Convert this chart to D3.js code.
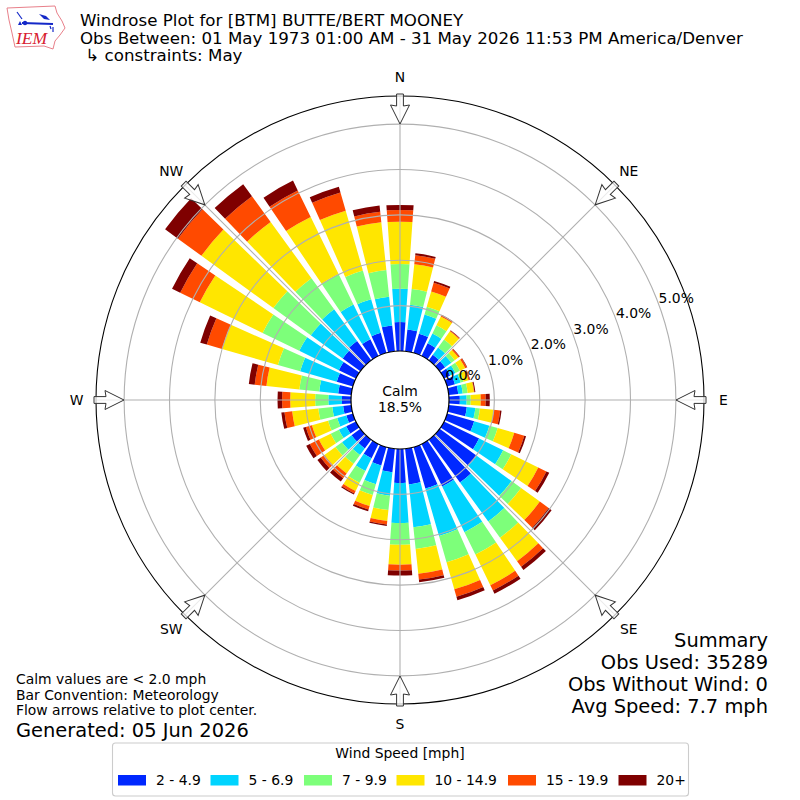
<!DOCTYPE html>
<html><head><meta charset="utf-8">
<script src="https://cdn.jsdelivr.net/npm/d3@7"></script>
<style>html,body{margin:0;padding:0;background:#fff}svg{display:block}text{font-family:"DejaVu Sans",sans-serif;fill:#000}</style>
</head><body><svg id="c" width="800" height="800"></svg>
<script>
const directions = d3.range(36).map(i => i * 10);
const speedLabels = ["2 - 4.9","5 - 6.9","7 - 9.9","10 - 14.9","15 - 19.9","20+"];
const speedColors = ["#0028ff","#00d4ff","#7dff7a","#ffe600","#ff4a00","#7f0000"];
const s2to5 = [.64,.48,.44,.31,.15,.15,.15,.18,.21,.24,.40,.62,.86,1.01,1.17,1.04,.95,.79,.75,.52,.42,.35,.24,.24,.24,.15,.18,.20,.29,.37,.42,.48,.53,.41,.46,.57];
const s5to7 = [.73,.55,.44,.24,.20,.17,.13,.13,.10,.15,.19,.35,.59,.95,1.06,1.12,1.09,.95,.88,.52,.43,.31,.18,.26,.18,.21,.24,.30,.42,.84,.97,.87,.86,.85,.77,.64];
const s7to10 = [.55,.35,.18,.20,.22,.09,.11,.07,.11,.09,.10,.19,.20,.26,.44,.55,.60,.48,.48,.32,.25,.29,.24,.18,.20,.21,.31,.29,.44,.51,.90,1.02,.85,.75,.66,.59];
const s10to15 = [.93,.55,.35,.22,.22,.10,.13,.11,.14,.22,.31,.38,.66,.51,.64,.75,.62,.55,.44,.24,.25,.20,.26,.30,.29,.37,.58,.55,.73,1.28,1.54,1.96,1.53,1.40,1.37,1.06];
const s15to20 = [.26,.20,.20,.03,.02,.03,.04,.03,.01,.11,.14,.23,.20,.24,.15,.13,.17,.13,.13,.08,.08,.06,.13,.10,.22,.14,.17,.18,.26,.35,.48,.64,.70,.65,.42,.23];
const s20plus = [.11,.04,.04,.01,.01,.01,.01,.01,.02,.09,.03,.04,.07,.08,.09,.08,.08,.06,.11,.03,.04,.03,.09,.09,.09,.06,.07,.10,.13,.15,.20,.35,.33,.24,.13,.14];
const seriesValues = [s2to5,s5to7,s7to10,s10to15,s15to20,s20plus];
const radialTicks = [0,1,2,3,4,5];
const compassLabels = ["N","NE","E","SE","S","SW","W","NW"];
const compassAngles = [0,45,90,135,180,225,270,315];
const titleLines = ["Windrose Plot for [BTM] BUTTE/BERT MOONEY","Obs Between: 01 May 1973 01:00 AM - 31 May 2026 11:53 PM America/Denver"," ↳ constraints: May"];
const summaryLines = ["Summary","Obs Used: 35289","Obs Without Wind: 0","Avg Speed: 7.7 mph"];
const noteLines = ["Calm values are < 2.0 mph","Bar Convention: Meteorology","Flow arrows relative to plot center."];
const calmPct = "18.5%";

const svg = d3.select("#c");
const cx = 400, cy = 400, R0 = 49, R = 304, rMax = 5.62;
const r = d3.scaleLinear().domain([0, rMax]).range([R0, R]);
const rad = d3.scaleLinear().domain([0, 360]).range([0, 2 * Math.PI]);
const plot = svg.append("g").attr("transform", `translate(${cx},${cy})`);
plot.append("circle").attr("r", R).attr("fill", "#fff");

const rows = directions.map((d, i) => { const o = {dir: d}; seriesValues.forEach((s, k) => o[k] = s[i]); return o; });
const stack = d3.stack().keys(d3.range(seriesValues.length))(rows);
const arc = d3.arc();
const halfW = 4;
plot.selectAll("g.s").data(stack).join("g").attr("fill", (d, i) => speedColors[i])
  .selectAll("path").data(d => d).join("path")
  .attr("d", d => arc({innerRadius: r(d[0]), outerRadius: r(d[1]),
     startAngle: rad(d.data.dir - halfW), endAngle: rad(d.data.dir + halfW)}));

// grid
const gridC = "#b0b0b0";
plot.selectAll("circle.g").data(radialTicks.slice(1)).join("circle").attr("r", d => r(d))
  .attr("fill", "none").attr("stroke", gridC).attr("stroke-width", 1.1);
plot.selectAll("line.g").data(compassAngles).join("line")
  .attr("x1", d => R0 * Math.sin(rad(d))).attr("y1", d => -R0 * Math.cos(rad(d)))
  .attr("x2", d => R * Math.sin(rad(d))).attr("y2", d => -R * Math.cos(rad(d)))
  .attr("stroke", gridC).attr("stroke-width", 1.1);

// spine and calm circle
plot.append("circle").attr("r", R).attr("fill", "none").attr("stroke", "#000").attr("stroke-width", 1.1);
plot.append("circle").attr("r", R0).attr("fill", "#fff").attr("stroke", "#000").attr("stroke-width", 1.2);

// arrows
plot.selectAll("path.arrow").data(compassAngles).join("path").attr("class", "arrow")
  .attr("d", "M-3.4,-306 L3.4,-306 L3.4,-294 L9.5,-295 L0,-276 L-9.5,-295 L-3.4,-294 Z")
  .attr("transform", d => `rotate(${d})`)
  .attr("fill", "#fff").attr("fill-opacity", .75).attr("stroke", "#333").attr("stroke-width", 1);

// compass labels
plot.selectAll("text.c").data(compassAngles).join("text")
  .attr("x", d => 323.5 * Math.sin(rad(d))).attr("y", d => -323.5 * Math.cos(rad(d)) + 5)
  .attr("text-anchor", "middle").attr("font-size", 13.9).text((d, i) => compassLabels[i]);

// radial labels
const labA = rad(70);
plot.selectAll("text.r").data(radialTicks).join("text")
  .attr("x", d => r(d) * Math.sin(labA) + 17).attr("y", d => -r(d) * Math.cos(labA) - 3)
  .attr("text-anchor", "middle").attr("font-size", 13.9).text(d => d.toFixed(1) + "%");

// calm
plot.append("text").attr("y", -4).attr("text-anchor", "middle").attr("font-size", 13.9).text("Calm");
plot.append("text").attr("y", 12).attr("text-anchor", "middle").attr("font-size", 13.9).text(calmPct);

// title
svg.selectAll("text.t").data(titleLines).join("text").attr("x", 80).attr("y", (d, i) => 26 + i * 17.5)
  .attr("font-size", 16.67).attr("xml:space", "preserve").style("white-space", "pre").text(d => d);

// summary
svg.selectAll("text.sum").data(summaryLines).join("text").attr("x", 768).attr("y", (d, i) => 646.5 + i * 22)
  .attr("text-anchor", "end").attr("font-size", 19.44).text(d => d);

// notes
svg.selectAll("text.n").data(noteLines).join("text").attr("x", 16).attr("y", (d, i) => 684 + i * 15.6)
  .attr("font-size", 13.9).text(d => d);
svg.append("text").attr("x", 16).attr("y", 736.5).attr("font-size", 19.44).text("Generated: 05 Jun 2026");

// legend
svg.append("rect").attr("x", 112.5).attr("y", 743).attr("width", 576).attr("height", 53).attr("rx", 3)
  .attr("fill", "#fff").attr("stroke", "#ccc").attr("stroke-width", 1.1);
svg.append("text").attr("x", 400).attr("y", 758).attr("text-anchor", "middle").attr("font-size", 13.9).text("Wind Speed [mph]");
const legX = d3.scaleOrdinal().domain(speedLabels).range([118, 210.5, 304, 396.5, 508, 618.5]);
const leg = svg.selectAll("g.l").data(speedLabels).join("g").attr("transform", d => `translate(${legX(d)},775)`);
leg.append("rect").attr("width", 28).attr("height", 10.5).attr("fill", (d, i) => speedColors[i]);
leg.append("text").attr("x", 38).attr("y", 10).attr("font-size", 13.9).text(d => d);

// logo
const logo = svg.append("g");
logo.append("path").attr("d", "M7,8 L55,6 L57,13 L62,21 L65,28 L60,35 L55,41 L53,49 L44,46 L15,47 L12,33 L9,20 Z")
  .attr("fill", "#fff").attr("stroke", "#e8808a").attr("stroke-width", 1);
logo.append("path").attr("d", "M22,23 L53,24").attr("stroke", "#1428c8").attr("stroke-width", 2).attr("fill", "none");
logo.append("path").attr("d", "M17,12 L22,19").attr("stroke", "#1428c8").attr("stroke-width", 1.2).attr("fill", "none");
logo.append("path").attr("d", "M39,14 L46,16 L50,20 L44,19 Z").attr("fill", "#1428c8");
logo.append("path").attr("d", "M50,26 L51,29 M53,27 L53,32").attr("stroke", "#1428c8").attr("stroke-width", 1.2).attr("fill", "none");
logo.append("circle").attr("cx", 25).attr("cy", 23).attr("r", 2.2).attr("fill", "#1428c8");
logo.append("path").attr("d", "M18,25 L20,21 L22,25 Z").attr("fill", "#1428c8");
logo.append("text").attr("x", 16).attr("y", 43.5).style("font-family", "Liberation Serif")
  .attr("font-style", "italic").attr("font-size", 17.5).style("fill", "#d82030").text("IEM");
</script></body></html>
